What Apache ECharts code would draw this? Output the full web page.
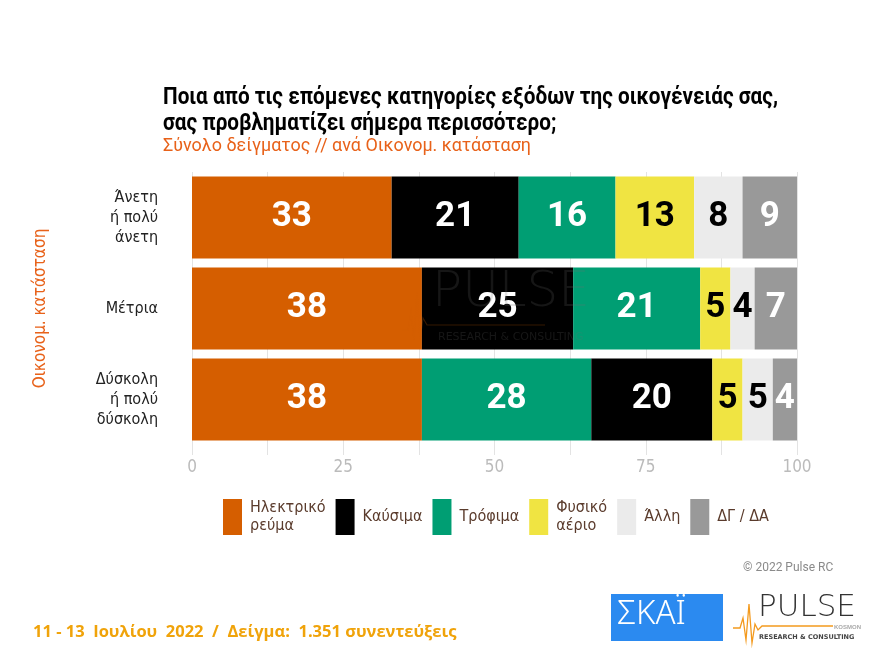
<!DOCTYPE html>
<html>
<head>
<meta charset="utf-8">
<script src="https://cdn.jsdelivr.net/npm/echarts@6/dist/echarts.min.js"></script>
<style>html,body{margin:0;padding:0;background:#fff;}#c{width:880px;height:660px;}</style>
</head>
<body>
<div id="c"></div>
<script>
// ---- data ----
const categories = ['Άνετη\nή πολύ\nάνετη', 'Μέτρια', 'Δύσκολη\nή πολύ\nδύσκολη'];
const electricity = [33, 38, 38];
const fuel = [21, 25, 20];
const food = [16, 21, 28];
const naturalGas = [13, 5, 5];
const other = [8, 4, 5];
const dkna = [9, 7, 4];
const foodBeforeFuel = [false, false, true]; // segment order per row as drawn
const xTicks = [0, 25, 50, 75, 100];
const legendNames = ['Ηλεκτρικό ρεύμα', 'Καύσιμα', 'Τρόφιμα', 'Φυσικό αέριο', 'Άλλη', 'ΔΓ / ΔΑ'];
const titleLine1 = 'Ποια από τις επόμενες κατηγορίες εξόδων της οικογένειάς σας,';
const titleLine2 = 'σας προβληματίζει σήμερα περισσότερο;';
const subtitle = 'Σύνολο δείγματος // ανά Οικονομ. κατάσταση';

const FONT = '"DejaVu Sans Condensed","Roboto",sans-serif';
const fuelA = fuel.map((v, i) => foodBeforeFuel[i] ? '-' : v);
const fuelB = fuel.map((v, i) => foodBeforeFuel[i] ? v : '-');

const mctx = document.createElement('canvas').getContext('2d');
function fit(text, font, target) { mctx.font = font; return target / mctx.measureText(text).width; }

const TFONT = 'bold 23px Roboto, sans-serif';
const SFONT = '18px Roboto, sans-serif';
const t1s = fit(titleLine1, TFONT, 615);
const ss = fit(subtitle, SFONT, 368);

function mk(name, data, color, labelColor) {
  return {
    name, type: 'bar', stack: 'all', data, barWidth: '90%',
    itemStyle: { color },
    label: { show: true, position: 'inside', color: labelColor, fontFamily: 'Roboto, sans-serif', fontWeight: 'bold', fontSize: 35 },
    emphasis: { disabled: true }
  };
}

const chart = echarts.init(document.getElementById('c'), null, { renderer: 'canvas' });
chart.setOption({
  animation: false,
  backgroundColor: '#fff',
  grid: { left: 192, right: 83, top: 172, height: 273 },
  xAxis: {
    type: 'value', min: 0, max: 100, interval: 12.5,
    axisLine: { show: false },
    axisTick: { show: true, length: 10, lineStyle: { color: '#e3e3e3' } },
    splitLine: { show: true, lineStyle: { color: '#e3e3e3', width: 1 } },
    axisLabel: {
      color: '#bbbbbb', fontFamily: FONT, fontSize: 17, margin: 14,
      formatter: v => xTicks.includes(v) ? String(v) : ''
    }
  },
  yAxis: {
    type: 'category', data: categories, inverse: true,
    axisLine: { show: false }, axisTick: { show: false },
    axisLabel: { color: '#222', fontFamily: FONT, fontSize: 16, lineHeight: 20, margin: 34, align: 'right' },
    name: 'Οικονομ. κατάσταση', nameLocation: 'middle', nameRotate: 90, nameGap: 143,
    nameTextStyle: { color: '#E8621A', fontFamily: FONT, fontSize: 17 }
  },
  legend: {
    data: legendNames, left: 223, top: 499, padding: 0, itemWidth: 19, itemHeight: 36, itemGap: 10,
    icon: 'rect',
    formatter: n => n === 'Ηλεκτρικό ρεύμα' ? 'Ηλεκτρικό\nρεύμα' : (n === 'Φυσικό αέριο' ? 'Φυσικό\nαέριο' : n),
    textStyle: { color: '#5a3b2c', fontFamily: FONT, fontSize: 16, lineHeight: 18, padding: [0, 0, 0, 3] }
  },
  series: [
    mk('Ηλεκτρικό ρεύμα', electricity, '#D55E00', '#fff'),
    mk('Καύσιμα', fuelA, '#000000', '#fff'),
    mk('Τρόφιμα', food, '#009E73', '#fff'),
    mk('Καύσιμα', fuelB, '#000000', '#fff'),
    mk('Φυσικό αέριο', naturalGas, '#F0E442', '#000'),
    mk('Άλλη', other, '#EBEBEB', '#000'),
    mk('ΔΓ / ΔΑ', dkna, '#999999', '#fff')
  ],
  graphic: [
    // title
    { type: 'text', x: 163, y: 98, scaleX: t1s,
      style: { text: titleLine1, fill: '#000', font: TFONT, verticalAlign: 'middle' } },
    { type: 'text', x: 163, y: 124, scaleX: t1s,
      style: { text: titleLine2, fill: '#000', font: TFONT, verticalAlign: 'middle' } },
    { type: 'text', x: 163, y: 146, scaleX: ss,
      style: { text: subtitle, fill: '#E8621A', font: SFONT, verticalAlign: 'middle' } },
    // watermark
    { type: 'text', left: 432, top: 268, z: 100, silent: true,
      style: { text: 'PULSE', fill: 'rgba(110,110,110,0.2)', font: '200 50px "DejaVu Sans", sans-serif', letterSpacing: 4 } },
    { type: 'polyline', z: 100, silent: true, shape: { points: [[402, 330], [408, 330], [411, 312], [414, 340], [417, 292], [420, 340], [423, 318], [427, 325], [545, 325]] },
      style: { stroke: 'rgba(213,94,0,0.25)', lineWidth: 1.2, fill: null } },
    { type: 'text', left: 438, top: 332, z: 100, silent: true,
      style: { text: 'RESEARCH & CONSULTING', fill: 'rgba(110,110,110,0.2)', font: '11px "DejaVu Sans", sans-serif', letterSpacing: 2 } },
    // footer
    { type: 'text', left: 743, top: 562,
      style: { text: '© 2022 Pulse RC', fill: '#8a8a8a', font: '12px Roboto, sans-serif' } },
    { type: 'text', left: 33, top: 624,
      style: { text: '11 - 13  Ιουλίου  2022  /  Δείγμα:  1.351 συνεντεύξεις', fill: '#F0A30A', font: 'bold 16.5px "Open Sans", sans-serif' } },
    // SKAI logo
    { type: 'rect', shape: { x: 611, y: 594, width: 112, height: 47 }, style: { fill: '#2B8AF0' } },
    { type: 'text', left: 617, top: 598,
      style: { text: 'ΣΚΑΪ', fill: '#fff', font: '300 33px "Noto Sans", "DejaVu Sans", sans-serif', letterSpacing: 6 } },
    // PULSE logo
    { type: 'text', left: 758, top: 592,
      style: { text: 'PULSE', fill: '#333', font: '200 31px "DejaVu Sans", sans-serif', letterSpacing: 2 } },
    { type: 'polyline', shape: { points: [[733, 628], [740, 628], [743, 618], [746, 640], [749, 604], [752, 643], [755, 624], [758, 630], [762, 626], [833, 626]] },
      style: { stroke: '#F39A1E', lineWidth: 1.3, fill: null } },
    { type: 'text', left: 834, top: 624, style: { text: 'KOSMON', fill: '#aaa', font: 'bold 6px sans-serif' } },
    { type: 'text', left: 759, top: 634, style: { text: 'RESEARCH & CONSULTING', fill: '#444', font: 'bold 6.5px "DejaVu Sans", sans-serif', letterSpacing: 1 } }
  ]
});
</script>
</body>
</html>
